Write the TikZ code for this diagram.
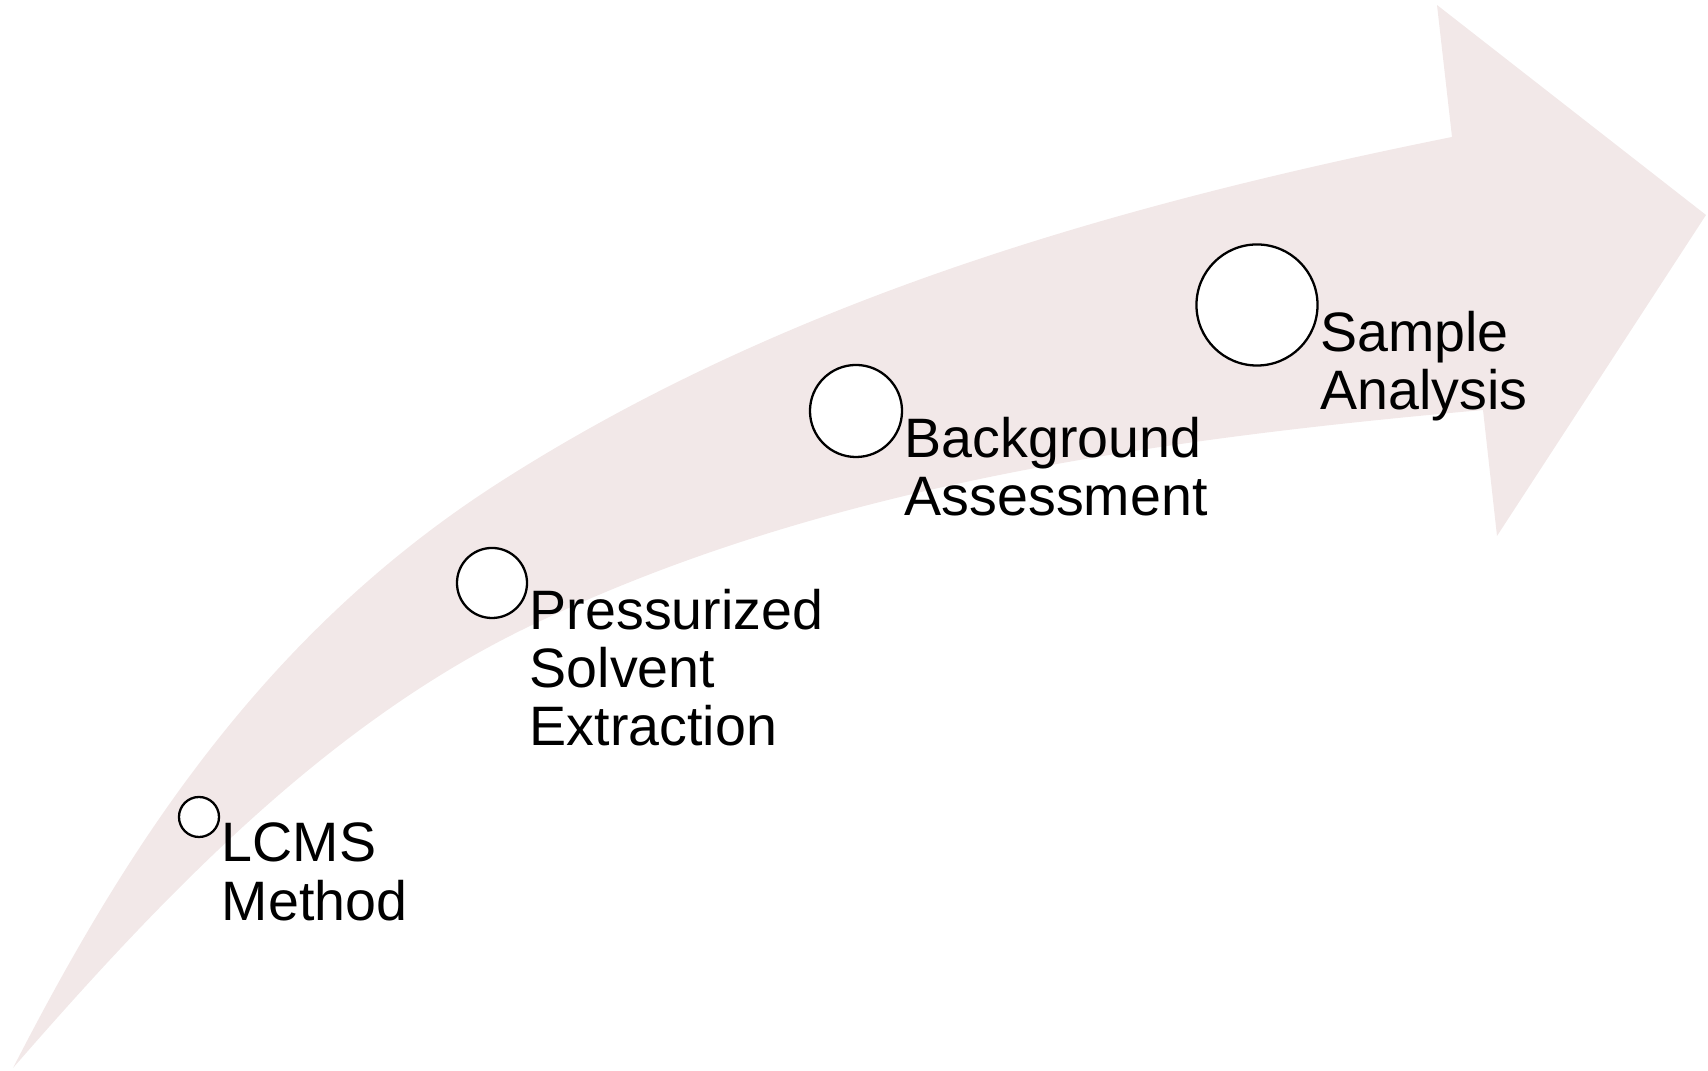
\documentclass[tikz,border=0pt]{standalone}
\usepackage{fontspec}
\setmainfont{Liberation Sans}
\usetikzlibrary{positioning}
\definecolor{arrowPink}{RGB}{242,232,232}
\tikzset{
  stepdot/.style={circle, draw=black, fill=white, line width=0.65pt, inner sep=0pt},
  steplabel/.style={anchor=north west, align=left, inner sep=0pt,
                    font=\fontsize{15.8pt}{16.5pt}\selectfont}
}

\begin{document}
\begin{tikzpicture}[x=0.01cm, y=-0.01cm]
\useasboundingbox (0,0) rectangle (1708,1071);
% curved arrow: upper edge, head, lower edge back to the tail
\fill[arrowPink] (13,1068) .. controls (127,846) and (264,633) .. (500,482)
  .. controls (786,299) and (1119,204) .. (1452,137)
  -- (1437,5) -- (1706,215) -- (1497,536) -- (1483,410)
  .. controls (1158,439) and (823,485) .. (530,626)
  .. controls (326,724) and (162,897) .. (13,1068) -- cycle;
% steps along the arrow, growing in size
\node[stepdot, minimum size=0.40cm] (lcms) at (199,817) {};
\node[stepdot, minimum size=0.70cm] (pse) at (492,583) {};
\node[stepdot, minimum size=0.92cm] (bg) at (856,411) {};
\node[stepdot, minimum size=1.21cm] (sample) at (1257,305) {};
\node[steplabel] (lcmsText) at ([xshift=0.01cm, yshift=-0.055cm]lcms.east) {LCMS\\Method};
\node[steplabel] (pseText) at ([xshift=0.01cm, yshift=-0.055cm]pse.east) {Pressurized\\Solvent\\Extraction};
\node[steplabel] (bgText) at ([xshift=0.01cm, yshift=-0.055cm]bg.east) {Background\\Assessment};
\node[steplabel] (sampleText) at ([xshift=0.01cm, yshift=-0.055cm]sample.east) {Sample\\Analysis};
\end{tikzpicture}
\end{document}
